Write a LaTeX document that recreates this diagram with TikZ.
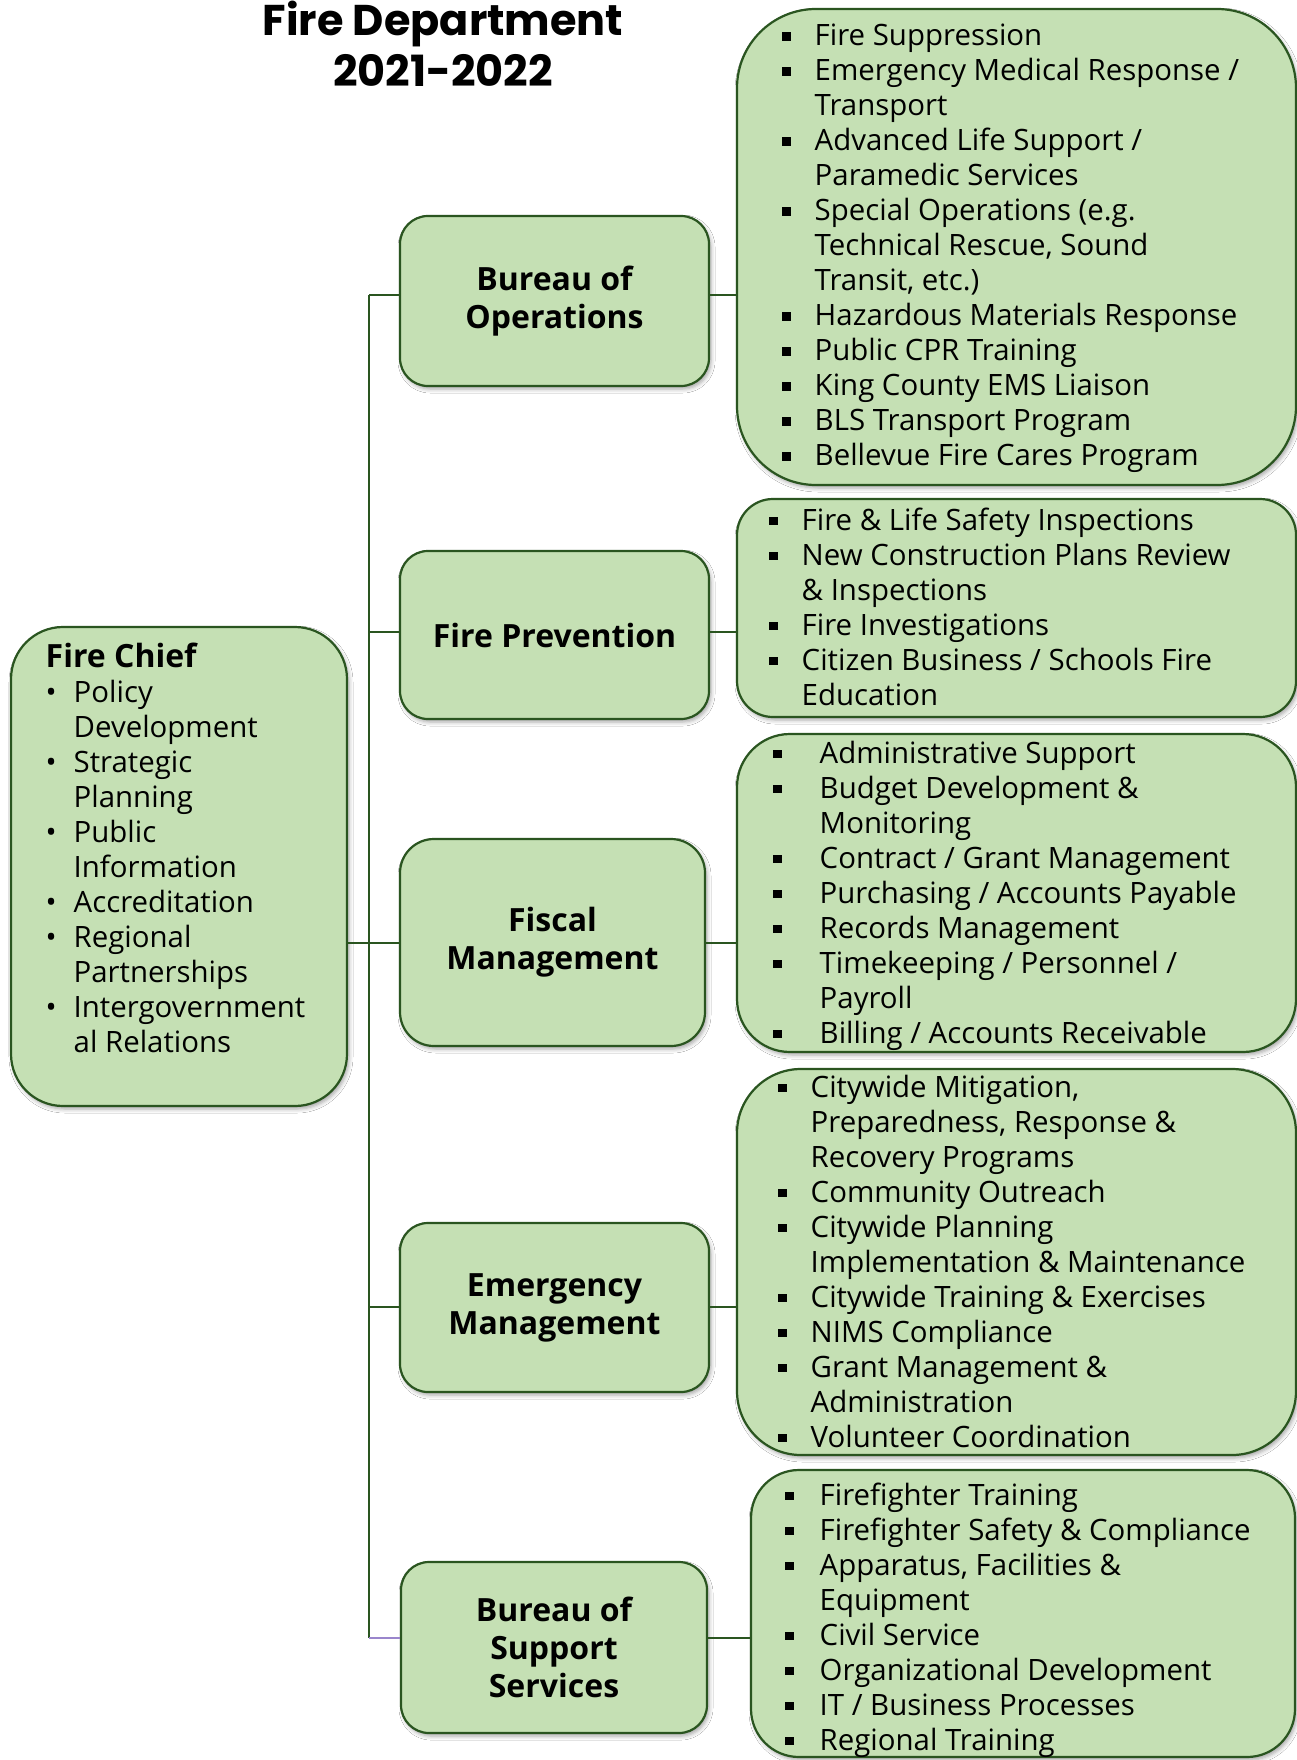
\documentclass[tikz,border=0pt]{standalone}
\usepackage{fontspec}
\setmainfont{Open Sans}
\newfontfamily\titlefamily{Poppins}
\usetikzlibrary{shadows.blur}

\definecolor{boxfill}{HTML}{C5E0B4}
\definecolor{boxline}{HTML}{2A5520}
\definecolor{linkgreen}{HTML}{2A5520}
\definecolor{linkpurple}{HTML}{9A86CC}

\newcommand\titlefont{\titlefamily\bfseries\fontsize{43}{51}\selectfont}
\newcommand\headfont{\bfseries\fontsize{32}{38}\selectfont}
\newcommand\listfont{\fontsize{29.4}{35}\selectfont}

% bullet cell of a list line, and the indent of a wrapped line
\newlength\bgap
\newcommand\B{\makebox[\bgap][l]{\rule[5pt]{8.5pt}{8.5pt}}}
\newcommand\D{\makebox[\bgap][l]{•}}
\newcommand\C{\hspace*{\bgap}}

\tikzset{
  orgbox/.style={draw=boxline, line width=2.2pt, fill=boxfill, inner sep=0pt,
    blur shadow={shadow xshift=2pt, shadow yshift=-3pt,
                 shadow blur radius=4pt, shadow opacity=35}},
  headbox/.style={orgbox, font=\headfont, align=center},
  listtext/.style={anchor=base west, inner sep=0pt, font=\listfont},
  link/.style={draw=linkgreen, line width=1.8pt},
  linkalt/.style={draw=linkpurple, line width=1.8pt}
}

\begin{document}
\begin{tikzpicture}[x=1pt, y=-1pt]
\fill[white] (0,0) rectangle (1297,1760);
\useasboundingbox (0,0) rectangle (1297,1760);

% title
\node[anchor=base, inner sep=0pt, font=\titlefont] (title) at (443,36)
  {\begin{tabular}[t]{@{}c@{}}Fire Department\\2021-2022\end{tabular}};

% junctions on the trunk line
\coordinate (J1) at (369,295);
\coordinate (J2) at (369,632);
\coordinate (J3) at (369,943);
\coordinate (J4) at (369,1307);
\coordinate (J5) at (369,1638);

% boxes: chief, divisions, duty lists
\node[orgbox, minimum width=336pt, minimum height=479pt, rounded corners=52pt] (chief) at (179,866.5) {};

\node[headbox, minimum width=309pt, minimum height=170pt, rounded corners=28pt] (ops) at (554.5,301) {Bureau of\\Operations};
\node[headbox, minimum width=309pt, minimum height=168pt, rounded corners=28pt] (prev) at (554.5,635) {Fire Prevention};
\node[headbox, minimum width=305pt, minimum height=207pt, rounded corners=34pt] (fisc) at (552.5,942.5) {Fiscal\\Management};
\node[headbox, minimum width=309pt, minimum height=169pt, rounded corners=28pt] (em) at (554.5,1307.5) {Emergency\\Management};
\node[headbox, minimum width=306pt, minimum height=171pt, rounded corners=28pt] (supp) at (554,1647.5) {Bureau of\\Support\\Services};

\node[orgbox, minimum width=559pt, minimum height=476pt, rounded corners=79pt] (opsL) at (1016.5,247) {};
\node[orgbox, minimum width=559pt, minimum height=218pt, rounded corners=36pt] (prevL) at (1016.5,608) {};
\node[orgbox, minimum width=559pt, minimum height=318pt, rounded corners=53pt] (fiscL) at (1016.5,893) {};
\node[orgbox, minimum width=559pt, minimum height=386pt, rounded corners=64pt] (emL) at (1016.5,1262) {};
\node[orgbox, minimum width=544pt, minimum height=287pt, rounded corners=48pt] (suppL) at (1023,1613.5) {};

% connectors
\draw[link] (J1) -- (J5);
\draw[link] (J1) -- (J1 -| ops.west);
\draw[link] (J2) -- (J2 -| prev.west);
\draw[link] (chief.east |- J3) -- (J3 -| fisc.west);
\draw[link] (J4) -- (J4 -| em.west);
\draw[linkalt] (J5) -- (J5 -| supp.west);
\draw[link] (ops.east |- J1) -- (J1 -| opsL.west);
\draw[link] (prev.east |- J2) -- (J2 -| prevL.west);
\draw[link] (fisc.east |- J3) -- (J3 -| fiscL.west);
\draw[link] (em.east |- J4) -- (J4 -| emL.west);
\draw[link] (supp.east |- J5) -- (J5 -| suppL.west);

% texts
\node[listtext] (chiefText) at (45.5,667) {\setlength\bgap{28pt}%
  \begin{tabular}[t]{@{}l@{}}
  {\bfseries\fontsize{32}{35}\selectfont Fire Chief}\\
  \D Policy\\ \C Development\\
  \D Strategic\\ \C Planning\\
  \D Public\\ \C Information\\
  \D Accreditation\\
  \D Regional\\ \C Partnerships\\
  \D Intergovernment\\ \C al Relations
  \end{tabular}};

\node[listtext] (opsText) at (782,46) {\setlength\bgap{32.5pt}%
  \begin{tabular}[t]{@{}l@{}}
  \B Fire Suppression\\
  \B Emergency Medical Response /\\ \C Transport\\
  \B Advanced Life Support /\\ \C Paramedic Services\\
  \B Special Operations (e.g.\\ \C Technical Rescue, Sound\\ \C Transit, etc.)\\
  \B Hazardous Materials Response\\
  \B Public CPR Training\\
  \B King County EMS Liaison\\
  \B BLS Transport Program\\
  \B Bellevue Fire Cares Program
  \end{tabular}};

\node[listtext] (prevText) at (769,530) {\setlength\bgap{32.5pt}%
  \begin{tabular}[t]{@{}l@{}}
  \B Fire \& Life Safety Inspections\\
  \B New Construction Plans Review\\ \C \& Inspections\\
  \B Fire Investigations\\
  \B Citizen Business / Schools Fire\\ \C Education
  \end{tabular}};

\node[listtext] (fiscText) at (773,763) {\setlength\bgap{46.5pt}%
  \begin{tabular}[t]{@{}l@{}}
  \B Administrative Support\\
  \B Budget Development \&\\ \C Monitoring\\
  \B Contract / Grant Management\\
  \B Purchasing / Accounts Payable\\
  \B Records Management\\
  \B Timekeeping / Personnel /\\ \C Payroll\\
  \B Billing / Accounts Receivable
  \end{tabular}};

\node[listtext] (emText) at (778,1097) {\setlength\bgap{32.5pt}%
  \begin{tabular}[t]{@{}l@{}}
  \B Citywide Mitigation,\\ \C Preparedness, Response \&\\ \C Recovery Programs\\
  \B Community Outreach\\
  \B Citywide Planning\\ \C Implementation \& Maintenance\\
  \B Citywide Training \& Exercises\\
  \B NIMS Compliance\\
  \B Grant Management \&\\ \C Administration\\
  \B Volunteer Coordination
  \end{tabular}};

\node[listtext] (suppText) at (785,1505) {\setlength\bgap{34.5pt}%
  \begin{tabular}[t]{@{}l@{}}
  \B Firefighter Training\\
  \B Firefighter Safety \& Compliance\\
  \B Apparatus, Facilities \&\\ \C Equipment\\
  \B Civil Service\\
  \B Organizational Development\\
  \B IT / Business Processes\\
  \B Regional Training
  \end{tabular}};
\end{tikzpicture}
\end{document}
